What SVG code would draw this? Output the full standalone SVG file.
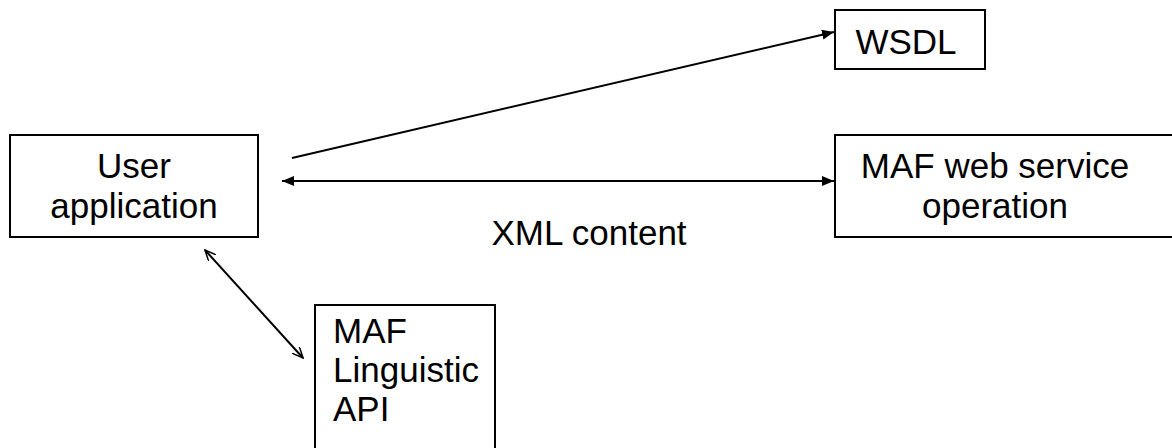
<svg xmlns="http://www.w3.org/2000/svg" width="1172" height="448" viewBox="0 0 1172 448">
<style>
.box{fill:#fff;stroke:#000;stroke-width:2}
.t{font-family:"Liberation Sans",Arial,sans-serif;font-size:35px;fill:#000}
.c{stroke:#000;stroke-width:2;fill:none}
</style>
<defs>
<marker id="fa" viewBox="0 0 12 10" refX="12" refY="5" markerWidth="12" markerHeight="10" markerUnits="userSpaceOnUse" orient="auto-start-reverse">
<path d="M0,0 L12,5 L0,10 Z" fill="#000"/>
</marker>
<marker id="oa" viewBox="0 0 12 10" refX="11" refY="5" markerWidth="12" markerHeight="10" markerUnits="userSpaceOnUse" orient="auto-start-reverse">
<path d="M0,0 L11,5 L0,10" fill="none" stroke="#000" stroke-width="1.5"/>
</marker>
</defs>
<g id="user-application">
<rect class="box" x="10" y="135" width="248" height="102"/>
<text class="t" x="134" y="178" text-anchor="middle">User</text>
<text class="t" x="134" y="218" text-anchor="middle">application</text>
</g>
<g id="wsdl">
<rect class="box" x="835" y="10" width="150" height="59"/>
<text class="t" x="906" y="54" text-anchor="middle">WSDL</text>
</g>
<g id="maf-web-service">
<rect class="box" x="835" y="135" width="345" height="102"/>
<text class="t" x="995" y="178" text-anchor="middle">MAF web service</text>
<text class="t" x="995" y="218" text-anchor="middle">operation</text>
</g>
<g id="maf-linguistic-api">
<rect class="box" x="315" y="305" width="180" height="160"/>
<text class="t" x="333" y="343">MAF</text>
<text class="t" x="333" y="382">Linguistic</text>
<text class="t" x="333" y="421">API</text>
</g>
<g id="xml-label">
<text class="t" x="589" y="245" text-anchor="middle">XML content</text>
</g>
<g id="connectors">
<line class="c" x1="292" y1="158" x2="834" y2="32" marker-end="url(#fa)"/>
<line class="c" x1="282" y1="181" x2="834" y2="181" marker-start="url(#fa)" marker-end="url(#fa)"/>
<line class="c" x1="205" y1="250" x2="303" y2="358" marker-start="url(#oa)" marker-end="url(#oa)"/>
</g>
</svg>
